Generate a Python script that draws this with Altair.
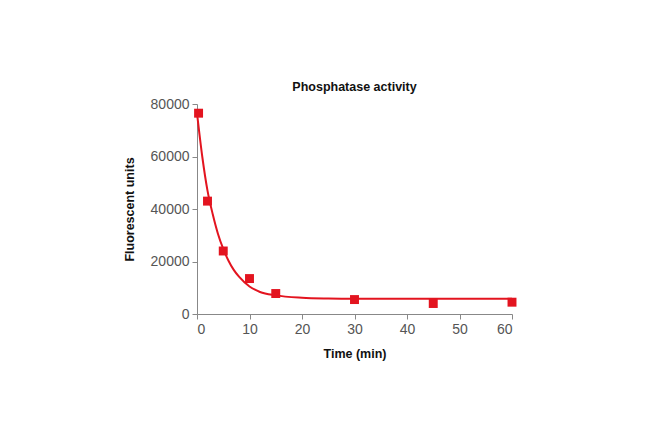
import altair as alt
import pandas as pd

# measured points
time_pts = [0.3, 2, 5, 10, 15, 30, 45, 60]
fluor_pts = [76500, 43000, 24000, 13500, 7800, 5500, 4000, 4500]

# fitted curve
curve_t = [0, 1, 2, 3, 4, 5, 6, 7, 8, 10, 12, 15, 20, 25, 30, 40, 50, 60]
curve_y = [76500, 60000, 47000, 38000, 30500, 24800, 20300, 16800, 14200, 10500, 8400, 7100, 6200, 5900, 5800, 5800, 5800, 5800]

x_ticks = [0, 10, 20, 30, 40, 50, 60]
y_ticks = [0, 20000, 40000, 60000, 80000]

RED = "#e3141f"
FONT = "Liberation Sans"

pts = pd.DataFrame({"t": time_pts, "y": fluor_pts})
crv = pd.DataFrame({"t": curve_t, "y": curve_y})

xs = alt.X("t:Q", scale=alt.Scale(domain=[0, 60], nice=False),
           axis=alt.Axis(values=x_ticks, title="Time (min)", format="d"))
ys = alt.Y("y:Q", scale=alt.Scale(domain=[0, 80000], nice=False),
           axis=alt.Axis(values=y_ticks, title="Fluorescent units", format="d"))

line = alt.Chart(crv).mark_line(color=RED, strokeWidth=2, interpolate="monotone").encode(x=xs, y=ys)
dots = alt.Chart(pts).mark_square(color=RED, opacity=1, size=80).encode(x=xs, y=ys)

chart = (line + dots).properties(
    width=315, height=210,
    autosize=alt.AutoSizeParams(type="none"),
    padding={"left": 189, "top": 96, "right": 130, "bottom": 116},
    title=alt.TitleParams("Phosphatase activity", font=FONT, fontSize=12.5, fontWeight="bold",
                          color="#111", anchor="middle", offset=4),
).configure_view(stroke=None).configure_axis(
    grid=False, domainColor="#888", tickColor="#888", tickSize=5,
    labelFont=FONT, labelFontSize=14, labelColor="#555",
    titleFont=FONT, titleFontSize=12.5, titleFontWeight="bold", titleColor="#111",
    labelPadding=3,
).configure_axisX(titlePadding=11).configure_axisY(titlePadding=14)

chart.save("out.html", embed_options={"renderer": "svg", "actions": False})
